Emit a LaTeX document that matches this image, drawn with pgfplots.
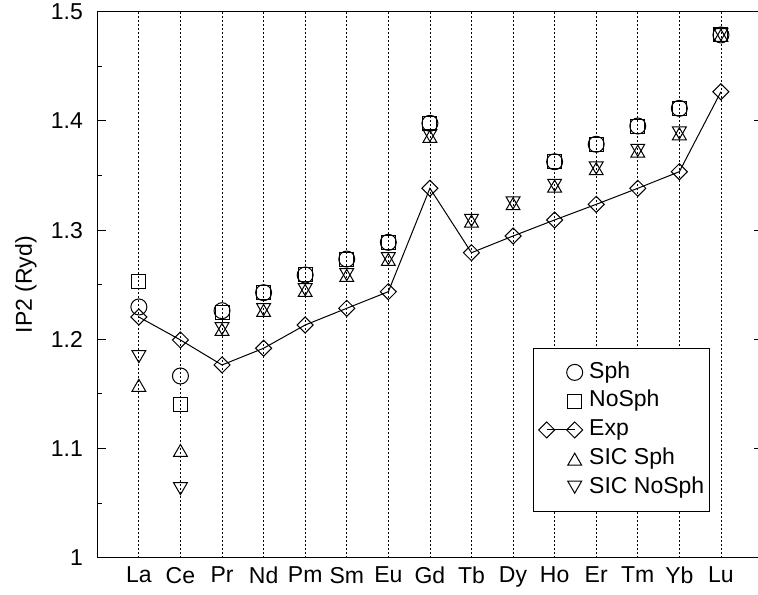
\documentclass[border=0pt]{standalone}
\usepackage{fontspec}
\setmainfont{Liberation Sans}
\usepackage{pgfplots}
\pgfplotsset{compat=1.18}
\pgfplotsset{
  markleg/.style={legend image code/.code={\path[draw=none,fill=none] (-5.65pt,0pt) -- (19.75pt,0pt); \draw[##1] plot coordinates {(14pt,0pt)};}},
  lineleg/.style={legend image code/.code={\path[draw=none,fill=none] (-5.65pt,0pt) -- (19.75pt,0pt); \draw[##1] plot coordinates {(0pt,0pt) (14pt,0pt)};}},
}
\begin{document}
\begin{tikzpicture}[font=\fontsize{11.5}{13.5}\selectfont]
\begin{axis}[
  scale only axis,
  width=332.6pt, height=273pt,
  xmin=0, xmax=16, ymin=1, ymax=1.5,
  xtick={1,...,15},
  xticklabels={La,Ce,Pr,Nd,Pm,Sm,Eu,Gd,Tb,Dy,Ho,Er,Tm,Yb,Lu},
  ytick={1,1.1,1.2,1.3,1.4,1.5},
  minor ytick={1.05,1.15,1.25,1.35,1.45},
  /pgf/number format/assume math mode=true,
  yticklabel style={font=\fontsize{11.5}{13.5}\selectfont, xshift=-3.7pt},
  xticklabel style={font=\fontsize{11.5}{13.5}\selectfont, yshift=-1.1pt},
  xmajorgrids,
  x grid style={black, line width=0.4pt, dash pattern=on 1pt off 1pt},
  xtick style={draw=none},
  ytick style={black, line width=0.5pt},
  major tick length=4.3pt, minor tick length=2.4pt,
  tick align=inside,
  axis line style={black, line width=0.6pt},
  ylabel={IP2 (Ryd)},
  every axis y label/.style={at={(axis description cs:-0.1072,0.5)}, rotate=90, anchor=center, font=\fontsize{11.5}{13.5}\selectfont},
  legend style={at={(axis description cs:0.6547,0.3841)}, anchor=north west, draw=black, line width=0.6pt, fill=white,
    inner xsep=1pt, inner ysep=4.7pt,
    nodes={inner xsep=1.5pt, inner ysep=1.8pt, text height=8.3pt, text depth=2.5pt},
    font=\fontsize{11.5}{13.5}\selectfont},
  legend cell align=left,
]
% Sph
\addplot[only marks, black, line width=0.5pt, mark=o, mark size=4pt, markleg]
  table {
x y
1 1.2296
2 1.1664
3 1.2262
4 1.2427
5 1.2589
6 1.2735
7 1.2888
8 1.3978
11 1.3626
12 1.3786
13 1.3953
14 1.4115
15 1.4787
};
\addlegendentry{Sph}
% NoSph
\addplot[only marks, black, line width=0.5pt, mark=square, mark size=3.5pt, markleg]
  table {
x y
1 1.2525
2 1.1407
3 1.2250
4 1.2427
5 1.2589
6 1.2735
7 1.2888
8 1.3978
11 1.3626
12 1.3786
13 1.3950
14 1.4110
15 1.4787
};
\addlegendentry{NoSph}
% Exp
\addplot[black, line width=0.5pt, mark=square, mark size=2.83pt, mark options={rotate=45}, lineleg]
  table {
x y
1 1.2204
2 1.1994
3 1.1765
4 1.1918
5 1.2131
6 1.2284
7 1.2436
8 1.3383
9 1.2793
10 1.2946
11 1.3093
12 1.3236
13 1.3383
14 1.3535
15 1.4267
};
\addlegendentry{Exp}
% SIC Sph
\addplot[only marks, black, line width=0.5pt, mark=triangle, mark size=4pt, mark options={yshift=-1.2pt}, markleg]
  table {
x y
1 1.1582
2 1.0986
3 1.2094
4 1.2268
5 1.2451
6 1.2589
7 1.2735
8 1.3862
9 1.3086
10 1.3245
11 1.3407
12 1.3566
13 1.3727
14 1.3886
15 1.4787
};
\addlegendentry{SIC Sph}
% SIC NoSph
\addplot[only marks, black, line width=0.5pt, mark=triangle, mark size=4pt, mark options={yshift=1.2pt, rotate=180}, markleg]
  table {
x y
1 1.1838
2 1.0629
3 1.2094
4 1.2268
5 1.2451
6 1.2589
7 1.2735
8 1.3862
9 1.3086
10 1.3245
11 1.3407
12 1.3566
13 1.3727
14 1.3886
15 1.4787
};
\addlegendentry{SIC NoSph}
\end{axis}
\pgfresetboundingbox
\path (-48.65pt,-18.15pt) rectangle (330.35pt,278.85pt);
\end{tikzpicture}
\end{document}
